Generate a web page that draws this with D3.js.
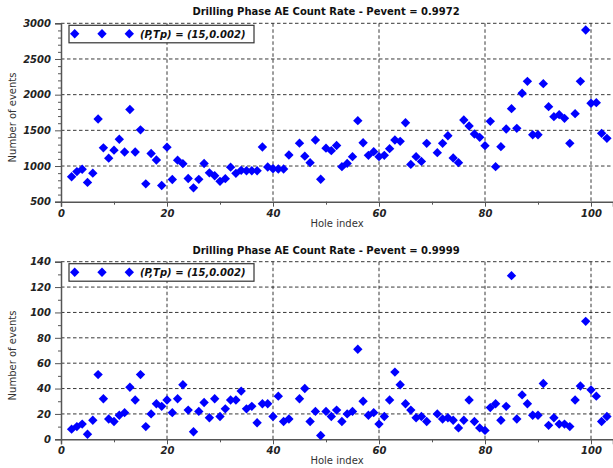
<!DOCTYPE html>
<html>
<head>
<meta charset="utf-8">
<script src="https://cdn.jsdelivr.net/npm/d3@7"></script>
<style>
  body { margin: 0; background: #fff; }
  text { font-family: "DejaVu Sans", sans-serif; }
</style>
</head>
<body>
<svg id="chart"></svg>
<script>
// hole indices (1, 44 and 70 are absent)
const holes = [2,3,4,5,6,7,8,9,10,11,12,13,14,15,16,17,18,19,20,21,22,23,24,25,26,27,28,29,30,31,32,33,34,35,36,37,38,39,40,41,42,43,
  45,46,47,48,49,50,51,52,53,54,55,56,57,58,59,60,61,62,63,64,65,66,67,68,69,
  71,72,73,74,75,76,77,78,79,80,81,82,83,84,85,86,87,88,89,90,91,92,93,94,95,96,97,98,99,100,101,102,103];

const countsTop = [850,922,955,770,900,1659,1255,1110,1222,1376,1196,1792,1196,1507,750,1176,1084,727,1264,811,1082,1033,825,694,813,1036,904,863,785,823,984,897,939,934,934,934,1266,986,962,958,958,1154,
  1320,1138,1047,1364,814,1250,1215,1288,991,1037,1131,1636,1327,1150,1201,1131,1150,1243,1364,1346,1607,1023,1131,1065,1318,
  1187,1318,1425,1112,1047,1645,1561,1449,1402,1285,1626,991,1271,1519,1804,1528,2019,2187,1439,1439,2154,1832,1692,1720,1668,1318,1734,2187,2907,1879,1888,1458,1388];

const countsBottom = [8,10,12,4,15,51,32,16,14,19,21,41,31,51,10,20,28,26,31,21,32,43,23,6,22,29,17,32,18,24,31,31,38,24,26,13,28,28,18,34,14,16,
  32,40,14,22,3,22,18,23,14,20,22,71,30,19,21,12,18,31,53,43,28,23,17,18,14,
  20,16,17,15,9,15,31,14,9,7,25,28,15,26,129,16,35,28,19,19,44,11,17,12,12,10,31,42,93,39,34,14,18];

const titles = ["Drilling Phase AE Count Rate - Pevent = 0.9972",
                "Drilling Phase AE Count Rate - Pevent = 0.9999"];
const legendLabel = "(P,Tp) = (15,0.002)";
const xTicks = [0, 20, 40, 60, 80, 100];
const xMinor = [10, 30, 50, 70, 90];
const yTicksTop = [500, 1000, 1500, 2000, 2500, 3000];
const yTicksBottom = [0, 20, 40, 60, 80, 100, 120, 140];

const width = 613, height = 468;
const svg = d3.select("#chart").attr("width", width).attr("height", height);

// square diamond marker
const diamond = {
  draw(ctx, size) {
    const r = Math.sqrt(size / 2);
    ctx.moveTo(0, -r); ctx.lineTo(r, 0); ctx.lineTo(0, r); ctx.lineTo(-r, 0); ctx.closePath();
  }
};
const marker = d3.symbol().type(diamond).size(44);

function drawPanel(p) {
  const x = d3.scaleLinear().domain([0, 104.15]).range([61, 613]);
  const y = d3.scaleLinear().domain(p.yDomain).range([p.bottom, p.top]);
  const g = svg.append("g");

  // grid
  g.append("g").selectAll("line.h")
    .data(p.yTicks.slice(1))
    .enter().append("line")
      .attr("x1", 61).attr("x2", 613)
      .attr("y1", d => y(d)).attr("y2", d => y(d))
      .attr("stroke", "#222").attr("stroke-width", 0.9)
      .attr("stroke-dasharray", "3.5,2.5");
  g.append("g").selectAll("line.v")
    .data(xTicks.slice(1))
    .enter().append("line")
      .attr("x1", d => x(d)).attr("x2", d => x(d))
      .attr("y1", p.top).attr("y2", p.bottom)
      .attr("stroke", "#222").attr("stroke-width", 0.9)
      .attr("stroke-dasharray", "3.5,2.5");

  // axes
  const yAxis = g.append("g").attr("transform", "translate(61,0)")
    .call(d3.axisLeft(y).tickValues(p.yTicks).tickSize(6).tickPadding(4).tickFormat(d3.format("d")));
  g.append("g").attr("transform", "translate(61,0)")
    .call(d3.axisLeft(y).tickValues(p.yMinor).tickSize(3).tickFormat(""))
    .select(".domain").remove();
  const xAxis = g.append("g").attr("transform", `translate(0,${p.bottom})`)
    .call(d3.axisBottom(x).tickValues(xTicks).tickSize(5).tickPadding(3).tickFormat(d3.format("d")));
  g.append("g").attr("transform", `translate(0,${p.bottom})`)
    .call(d3.axisBottom(x).tickValues(xMinor).tickSize(3).tickFormat(""))
    .select(".domain").remove();
  g.selectAll(".domain").attr("stroke", "#555").attr("stroke-width", 1.5);
  g.selectAll(".tick line").attr("stroke", "#555");
  g.selectAll(".tick text")
    .attr("font-size", 10).attr("font-weight", "bold").attr("font-style", "italic")
    .attr("fill", "#222").style("font-family", "DejaVu Sans");

  // title and labels
  g.append("text").attr("x", 326).attr("y", p.top - 8)
    .attr("text-anchor", "middle").attr("font-size", 10).attr("font-weight", "bold")
    .attr("fill", "#111").text(p.title);
  g.append("text").attr("x", 337).attr("y", p.bottom + 25)
    .attr("text-anchor", "middle").attr("font-size", 10).attr("fill", "#333")
    .text("Hole index");
  g.append("text")
    .attr("transform", `translate(16,${(p.top + p.bottom) / 2 + 5}) rotate(-90)`)
    .attr("text-anchor", "middle").attr("font-size", 10).attr("fill", "#333")
    .text("Number of events");

  // points
  g.append("g").selectAll("path")
    .data(p.values)
    .enter().append("path")
      .attr("d", marker)
      .attr("transform", (d, i) => `translate(${x(holes[i])},${y(d)})`)
      .attr("fill", "#0000ff");

  // legend
  const lg = g.append("g");
  lg.append("rect").attr("x", 69).attr("y", p.top + 2).attr("width", 185).attr("height", 17.5)
    .attr("fill", "#fff").attr("stroke", "#333").attr("stroke-width", 1.2);
  lg.selectAll("path")
    .data([74.7, 102, 129.3])
    .enter().append("path")
      .attr("d", marker)
      .attr("transform", d => `translate(${d},${p.top + 10.5})`)
      .attr("fill", "#0000ff");
  lg.append("text").attr("x", 140).attr("y", p.top + 14.5)
    .attr("font-size", 10).attr("font-weight", "bold").attr("font-style", "italic")
    .attr("fill", "#111").text(legendLabel);
}

drawPanel({
  title: titles[0], values: countsTop,
  yDomain: [500, 3000], top: 23.3, bottom: 201.7,
  yTicks: yTicksTop, yMinor: d3.range(600, 3000, 100).filter(v => v % 500 !== 0)
});
drawPanel({
  title: titles[1], values: countsBottom,
  yDomain: [0, 140], top: 261.7, bottom: 439.3,
  yTicks: yTicksBottom, yMinor: [10, 30, 50, 70, 90, 110, 130]
});
</script>
</body>
</html>
